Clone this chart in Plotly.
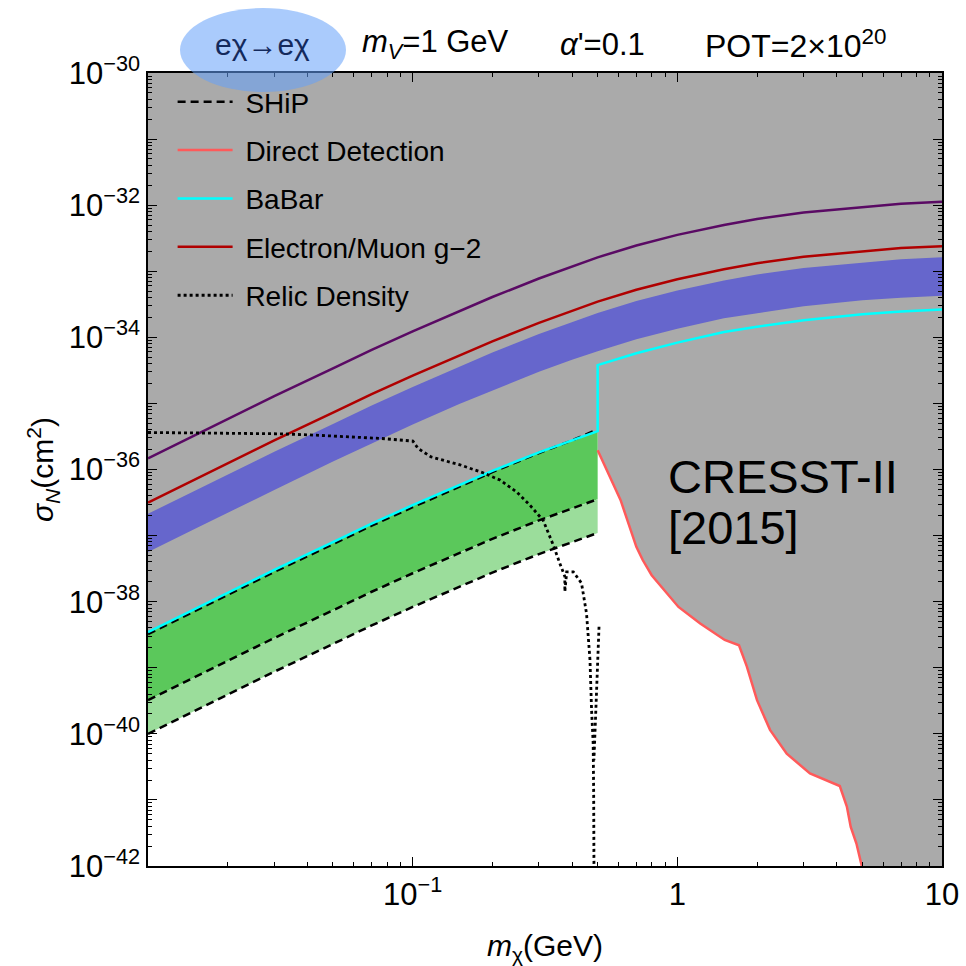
import plotly.graph_objects as go

FONT = "Liberation Sans, Arial, Helvetica, sans-serif"

# ---- data (log10 of cross sections in cm^2, masses in GeV) ----
masses = [0.01, 0.015, 0.02, 0.03, 0.05, 0.07, 0.1, 0.15, 0.2, 0.3, 0.4, 0.5, 0.7, 1, 1.5, 2, 3, 5, 7, 10]

upper_line_log = [-35.83, -35.48, -35.24, -34.89, -34.47, -34.19, -33.91, -33.60, -33.39, -33.11,
                  -32.93, -32.79, -32.61, -32.45, -32.30, -32.21, -32.11, -32.03, -31.98, -31.95]
g2_log = [-36.50, -36.15, -35.91, -35.56, -35.14, -34.86, -34.58, -34.27, -34.06, -33.78,
          -33.60, -33.46, -33.28, -33.12, -32.97, -32.88, -32.78, -32.70, -32.65, -32.62]
band_top_log = [-36.67, -36.32, -36.08, -35.73, -35.31, -35.03, -34.75, -34.44, -34.23, -33.95,
                -33.77, -33.63, -33.45, -33.29, -33.14, -33.05, -32.95, -32.87, -32.82, -32.79]
band_bot_log = [-37.25, -36.90, -36.65, -36.31, -35.88, -35.61, -35.32, -35.01, -34.80, -34.52,
                -34.34, -34.21, -34.03, -33.87, -33.71, -33.63, -33.53, -33.44, -33.40, -33.37]

low_masses = [0.01, 0.015, 0.02, 0.03, 0.05, 0.07, 0.1, 0.15, 0.2, 0.3, 0.4, 0.5]
babar_low_log = [-38.46, -38.11, -37.87, -37.52, -37.10, -36.82, -36.54, -36.23, -36.02, -35.74, -35.56, -35.42]
high_masses = [0.5, 0.7, 1, 1.5, 2, 3, 5, 7, 10]
babar_high_log = [-34.42, -34.24, -34.08, -33.92, -33.84, -33.74, -33.65, -33.61, -33.58]

ship_top_log = [-38.49, -38.14, -37.90, -37.55, -37.13, -36.85, -36.57, -36.26, -36.04, -35.75, -35.56, -35.39]
ship_mid_log = [-39.49, -39.14, -38.90, -38.55, -38.13, -37.85, -37.57, -37.26, -37.05, -36.77, -36.59, -36.45]
ship_bot_log = [-40.00, -39.65, -39.41, -39.06, -38.64, -38.36, -38.08, -37.77, -37.56, -37.28, -37.10, -36.96]

dd_masses = [0.50, 0.61, 0.70, 0.74, 0.80, 1.01, 1.22, 1.51, 1.71, 1.83, 2.00, 2.24, 2.59, 3.17, 4.11, 4.37, 4.52, 4.75, 5.01]
dd_log = [-35.71, -36.46, -37.17, -37.37, -37.60, -38.08, -38.33, -38.58, -38.66, -38.98, -39.49, -39.94, -40.30, -40.60, -40.79, -41.10, -41.41, -41.66, -42.05]

relic_masses = [0.0100, 0.0318, 0.0427, 0.0759, 0.1002, 0.1047, 0.1175, 0.1510, 0.1845, 0.2138,
                0.2472, 0.2773, 0.3112, 0.3396, 0.3597, 0.3758, 0.3758, 0.3819, 0.4046, 0.4345,
                0.4539, 0.4677, 0.4742, 0.4808, 0.4830, 0.4842]
relic_log = [-35.44, -35.46, -35.48, -35.53, -35.57, -35.68, -35.81, -35.93, -36.05, -36.16,
             -36.34, -36.54, -36.77, -37.14, -37.42, -37.62, -37.85, -37.55, -37.55, -37.72,
             -38.18, -38.88, -39.64, -40.14, -40.90, -42.00]
relic_branch_masses = [0.506, 0.495, 0.489, 0.484]
relic_branch_log = [-38.38, -39.39, -40.14, -40.40]

X_RANGE = (0.01, 10.0)
Y_RANGE_LOG = (-42, -30)
NB = "\u00a0"


def pw(vals):
    return [10.0 ** v for v in vals]


fig = go.Figure()

# excluded region: above BaBar (m < 0.5 GeV) and above CRESST-II (m > 0.5 GeV)
gx = ([X_RANGE[0], X_RANGE[1], X_RANGE[1]] + dd_masses[::-1] + low_masses[::-1])
gy = ([10.0 ** Y_RANGE_LOG[1], 10.0 ** Y_RANGE_LOG[1], 10.0 ** Y_RANGE_LOG[0]]
      + pw(dd_log[::-1]) + pw(babar_low_log[::-1]))
fig.add_trace(go.Scatter(x=gx, y=gy, fill="toself", fillcolor="#aaaaaa", mode="lines",
                         line=dict(width=0), showlegend=False, hoverinfo="skip"))

# blue band
fig.add_trace(go.Scatter(x=masses + masses[::-1], y=pw(band_top_log) + pw(band_bot_log[::-1]),
                         fill="toself", fillcolor="#6666cc", mode="lines", line=dict(width=0),
                         showlegend=False, hoverinfo="skip"))

# upper line
fig.add_trace(go.Scatter(x=masses, y=pw(upper_line_log), mode="lines",
                         line=dict(color="#5a0a64", width=2.5), showlegend=False))

# g-2
fig.add_trace(go.Scatter(x=masses, y=pw(g2_log), mode="lines", name=NB + "Electron/Muon g\u22122",
                         line=dict(color="#b00000", width=2.5), legendgroup="g2", legendrank=4))

# SHiP sensitivity bands
fig.add_trace(go.Scatter(x=low_masses + low_masses[::-1], y=pw(babar_low_log) + pw(ship_mid_log[::-1]),
                         fill="toself", fillcolor="#5bc85b", mode="lines", line=dict(width=0),
                         showlegend=False, hoverinfo="skip"))
fig.add_trace(go.Scatter(x=low_masses + low_masses[::-1], y=pw(ship_mid_log) + pw(ship_bot_log[::-1]),
                         fill="toself", fillcolor="#9bdd9b", mode="lines", line=dict(width=0),
                         showlegend=False, hoverinfo="skip"))

# SHiP dashed lines
for i, ys in enumerate([ship_top_log, ship_mid_log, ship_bot_log]):
    fig.add_trace(go.Scatter(x=low_masses, y=pw(ys), mode="lines", name=NB + "SHiP",
                             line=dict(color="black", width=2.5, dash="8px,5px"),
                             legendgroup="ship", legendrank=1, showlegend=(i == 0)))

# BaBar
fig.add_trace(go.Scatter(x=low_masses + high_masses, y=pw(babar_low_log) + pw(babar_high_log),
                         mode="lines", name=NB + "BaBar", line=dict(color="#00ffff", width=2.5),
                         legendgroup="babar", legendrank=3))

# direct detection (CRESST-II)
fig.add_trace(go.Scatter(x=dd_masses, y=pw(dd_log), mode="lines", name=NB + "Direct Detection",
                         line=dict(color="#ff5a5a", width=2.5), legendgroup="dd", legendrank=2))

# relic density
fig.add_trace(go.Scatter(x=relic_masses, y=pw(relic_log), mode="lines", name=NB + "Relic Density",
                         line=dict(color="black", width=2.8, dash="3px,3px"),
                         legendgroup="relic", legendrank=5))
fig.add_trace(go.Scatter(x=relic_branch_masses, y=pw(relic_branch_log), mode="lines",
                         line=dict(color="black", width=2.8, dash="3px,3px"),
                         legendgroup="relic", showlegend=False))

# ticks
x_major = [0.01, 0.1, 1, 10]
x_text = ["", "10<sup>\u22121</sup>", "1", "10"]
x_minor = [d * 10.0 ** e for e in (-2, -1, 0) for d in range(2, 10)]
y_major = [10.0 ** e for e in range(-42, -29)]
y_text = [("10<sup>\u2212%d</sup>" % (-e)) if e % 2 == 0 else "" for e in range(-42, -29)]
y_minor = [d * 10.0 ** e for e in range(-42, -30) for d in range(2, 10)]

axis_common = dict(showline=True, linecolor="black", linewidth=1.5, mirror="ticks",
                   ticks="inside", ticklen=9, tickwidth=1.2, tickcolor="black", automargin=False,
                   showgrid=False, zeroline=False, tickfont=dict(size=31, color="black", family=FONT))

fig.update_xaxes(type="log", range=[-2, 1], tickmode="array", tickvals=x_major, ticktext=x_text,
                 minor=dict(tickmode="array", tickvals=x_minor, ticks="inside", ticklen=4,
                            tickcolor="black", tickwidth=1, showgrid=False),
                 title=dict(text="<i>m</i><sub>\u03c7</sub>(GeV)", font=dict(size=30, family=FONT),
                            standoff=26),
                 **axis_common)
fig.update_yaxes(type="log", range=list(Y_RANGE_LOG), tickmode="array", tickvals=y_major, ticktext=y_text,
                 minor=dict(tickmode="array", tickvals=y_minor, ticks="inside", ticklen=4,
                            tickcolor="black", tickwidth=1, showgrid=False),
                 title=dict(text="<i>\u03c3</i><sub><i>N</i></sub>(cm<sup>2</sup>)",
                            font=dict(size=30, family=FONT), standoff=6),
                 **axis_common)

ann = [
    dict(x=0.1448, y=1.036, text="e\u03c7\u2192e\u03c7", font=dict(size=30, color="#142a5c")),
    dict(x=0.3627, y=1.036, text="<i>m</i><sub><i>V</i></sub>=1 GeV", font=dict(size=31, color="black")),
    dict(x=0.5718, y=1.036, text="<i>\u03b1</i>'=0.1", font=dict(size=31, color="black")),
    dict(x=0.8161, y=1.036, text="POT=2\u00d710<sup>20</sup>", font=dict(size=32, color="black")),
]
annotations = []
for a in ann:
    annotations.append(dict(xref="paper", yref="paper", showarrow=False, xanchor="center",
                            yanchor="middle", x=a["x"], y=a["y"], text=a["text"],
                            font=dict(family=FONT, **a["font"])))
annotations.append(dict(xref="paper", yref="paper", showarrow=False, xanchor="left", yanchor="middle",
                        x=(666 - 148) / 794, y=(866 - 476) / 793, text="CRESST-II",
                        font=dict(family=FONT, size=47, color="black")))
annotations.append(dict(xref="paper", yref="paper", showarrow=False, xanchor="left", yanchor="middle",
                        x=(666 - 148) / 794, y=(866 - 527) / 793, text="[2015]",
                        font=dict(family=FONT, size=47, color="black")))

fig.update_layout(
    width=966, height=966,
    margin=dict(l=148, r=24, t=73, b=100),
    paper_bgcolor="white", plot_bgcolor="white",
    font=dict(family=FONT, color="black"),
    showlegend=True,
    legend=dict(x=0.031, y=0.995, xanchor="left", yanchor="top", bgcolor="rgba(0,0,0,0)",
                font=dict(size=28, family=FONT, color="black"), tracegroupgap=9, itemwidth=55),
    annotations=annotations,
    shapes=[dict(type="circle", xref="paper", yref="paper", layer="above",
                 x0=(180 - 148) / 794, x1=(346 - 148) / 794, y0=(866 - 92) / 793, y1=(866 - 8) / 793,
                 fillcolor="rgba(100,160,250,0.55)", line=dict(width=0))],
)

fig.write_html("out.html")
